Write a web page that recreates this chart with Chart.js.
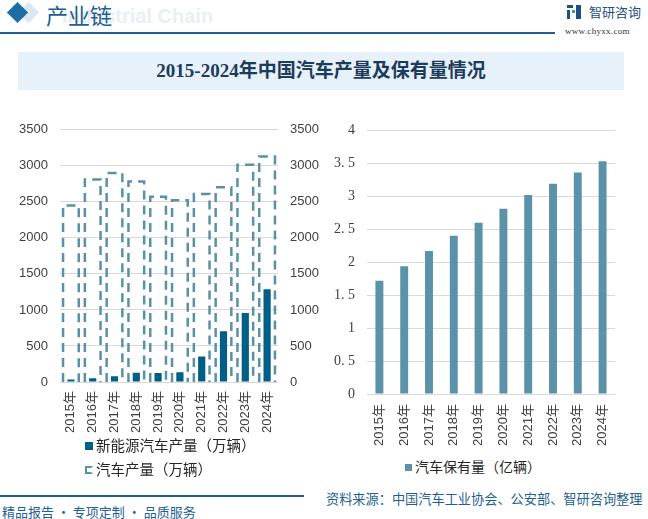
<!DOCTYPE html>
<html>
<head>
<meta charset="utf-8">
<script src="https://cdn.jsdelivr.net/npm/chart.js@4.4.0/dist/chart.umd.min.js"></script>
<style>
    html, body { margin: 0; padding: 0; }
    body {
        width: 648px; height: 519px; position: relative; overflow: hidden;
        background: #fff; font-family: "Noto Sans CJK SC", sans-serif;
    }
    .abs { position: absolute; }
    .diamond {
        left: 10px; top: 5px; width: 15px; height: 15px;
        background: #1c6ea4; transform: rotate(45deg);
    }
    .diamond-bg {
        left: 21px; top: 5px; width: 15px; height: 15px;
        background: #dbe8f2; transform: rotate(45deg);
    }
    .head-title { left: 46px; top: -2px; font-size: 22px; color: #1f5f93; font-family: "Noto Sans CJK SC"; }
    .head-en { left: 62px; top: 5px; font-size: 20px; font-weight: bold; color: #e8eff5; font-family: "Liberation Sans"; }
    .head-line { left: 0; top: 32px; width: 555px; height: 2px; background: #1f5f93; }
    .logo-icon { left: 567px; top: 5px; width: 14px; height: 14px; }
    .logo-text { left: 589px; top: 2px; font-size: 13px; color: #1f4f80; }
    .logo-url { left: 565px; top: 26px; font-size: 9px; color: #333; font-family: "Liberation Serif"; letter-spacing: 0.3px; }
    .title-box {
        left: 18px; top: 52px; width: 606px; height: 38px; background: #e6f1f9;
        text-align: center; line-height: 38px; font-size: 19px; font-weight: bold; color: #1d3b5c;
        font-family: "Liberation Serif", "Noto Sans CJK SC";
    }
    .legend { font-size: 14.5px; color: #262626; line-height: 16px; white-space: nowrap; }
    .legend .box { display: inline-block; width: 8px; height: 8px; margin-right: 3px; vertical-align: 1px; box-sizing: border-box; }
    .foot-line { left: 0; top: 495px; width: 304px; height: 2px; background: #1f5f93; }
    .foot-left { left: 2px; top: 502px; font-size: 13px; color: #1f5f93; }
    .foot-right { left: 326px; top: 489px; font-size: 13.2px; color: #1f5f93; }
</style>
</head>
<body>
<div class="abs diamond-bg"></div>
<div class="abs diamond"></div>
<div class="abs head-en">Industrial Chain</div>
<div class="abs head-title">产业链</div>
<div class="abs head-line"></div>
<svg class="abs logo-icon" viewBox="0 0 14 14">
    <rect x="0" y="0" width="6" height="3" fill="#1f4f80"/>
    <rect x="0" y="5" width="3" height="9" fill="#1f4f80"/>
    <rect x="5" y="5" width="3" height="3" fill="#3c8fd0"/>
    <rect x="9" y="0" width="5" height="14" fill="#1f4f80"/>
</svg>
<div class="abs logo-text">智研咨询</div>
<div class="abs logo-url">www.chyxx.com</div>
<div class="abs title-box">2015-2024年中国汽车产量及保有量情况</div>

<div class="abs" style="left:0;top:110px;width:330px;height:330px;"><canvas id="leftChart"></canvas></div>
<div class="abs" style="left:330px;top:110px;width:318px;height:340px;"><canvas id="rightChart"></canvas></div>

<div class="abs legend" id="leftLegend" style="left:85px;top:437px;"></div>
<div class="abs legend" id="rightLegend" style="left:405px;top:458px;font-size:14px;"></div>

<div class="abs foot-line"></div>
<div class="abs foot-left">精品报告 · 专项定制 · 品质服务</div>
<div class="abs foot-right">资料来源：中国汽车工业协会、公安部、智研咨询整理</div>

<script>
// 年份
const years = ['2015年', '2016年', '2017年', '2018年', '2019年', '2020年', '2021年', '2022年', '2023年', '2024年'];
// 新能源汽车产量（万辆）
const nevOutput = [34.1, 51.7, 79.4, 127, 124.2, 136.6, 354.5, 705.8, 958.7, 1288.8];
// 汽车产量（万辆）
const carOutput = [2450.3, 2811.9, 2901.5, 2780.9, 2572.1, 2522.5, 2608.2, 2702.1, 3016.1, 3128.2];
// 汽车保有量（亿辆）
const carStock = [1.72, 1.94, 2.17, 2.40, 2.60, 2.81, 3.02, 3.19, 3.36, 3.53];

const leftTicks = [0, 500, 1000, 1500, 2000, 2500, 3000, 3500];
const rightTicks = [0, 0.5, 1, 1.5, 2, 2.5, 3, 3.5, 4];

const nevLabel = '新能源汽车产量（万辆）';
const carLabel = '汽车产量（万辆）';
const stockLabel = '汽车保有量（亿辆）';

const COLOR_NEV = '#005f86';
const COLOR_CAR = '#5a91a8';
const COLOR_STOCK = '#5b92aa';
const GRID = '#d9d9d9';
const TICK = '#404040';

// 虚线框柱子（汽车产量）
const dashedBars = {
    id: 'dashedBars',
    afterDatasetsDraw(chart) {
        const meta = chart.getDatasetMeta(1);
        const ctx = chart.ctx;
        ctx.save();
        ctx.strokeStyle = COLOR_CAR;
        ctx.lineWidth = 2.5;
        ctx.setLineDash([9, 6]);
        meta.data.forEach(el => {
            const p = el.getProps(['x', 'y', 'base', 'width'], true);
            const l = p.x - p.width / 2;
            const r = p.x + p.width / 2;
            ctx.beginPath();
            ctx.moveTo(l, p.base);
            ctx.lineTo(l, p.y);
            ctx.lineTo(r, p.y);
            ctx.lineTo(r, p.base);
            ctx.stroke();
        });
        ctx.restore();
    }
};

const xTickFont = { family: '"Liberation Sans", "Noto Sans CJK SC"', size: 13 };
const numFont = { family: 'Liberation Sans', size: 13 };

new Chart(document.getElementById('leftChart'), {
    type: 'bar',
    data: {
        labels: years,
        datasets: [{
            label: nevLabel,
            data: nevOutput,
            yAxisID: 'y',
            backgroundColor: COLOR_NEV,
            grouped: false,
            categoryPercentage: 1,
            barPercentage: 0.33
        }, {
            label: carLabel,
            data: carOutput,
            yAxisID: 'y1',
            backgroundColor: 'rgba(0,0,0,0)',
            borderWidth: 0,
            grouped: false,
            categoryPercentage: 1,
            barPercentage: 0.72
        }]
    },
    options: {
        responsive: true,
        maintainAspectRatio: false,
        animation: false,
        layout: { padding: { top: 16 } },
        plugins: { legend: { display: false }, tooltip: { enabled: false } },
        scales: {
            x: {
                grid: { display: false, drawTicks: false },
                border: { display: false },
                ticks: { color: TICK, font: xTickFont, minRotation: 90, maxRotation: 90, padding: 9 },
                afterFit(scale) { scale.height = 58; }
            },
            y: {
                position: 'left',
                min: 0, max: 3500,
                afterBuildTicks(scale) { scale.ticks = leftTicks.map(v => ({ value: v })); },
                grid: { color: GRID, drawTicks: false },
                border: { display: false },
                ticks: { color: TICK, font: numFont, padding: 12, callback: v => String(v) },
                afterFit(scale) { scale.width = 60; }
            },
            y1: {
                position: 'right',
                min: 0, max: 3500,
                afterBuildTicks(scale) { scale.ticks = leftTicks.map(v => ({ value: v })); },
                grid: { display: false, drawTicks: false },
                border: { display: false },
                ticks: { color: TICK, font: numFont, padding: 12, callback: v => String(v) },
                afterFit(scale) { scale.width = 52; }
            }
        }
    },
    plugins: [dashedBars]
});

new Chart(document.getElementById('rightChart'), {
    type: 'bar',
    data: {
        labels: years,
        datasets: [{
            label: stockLabel,
            data: carStock,
            backgroundColor: COLOR_STOCK,
            categoryPercentage: 1,
            barPercentage: 0.32
        }]
    },
    options: {
        responsive: true,
        maintainAspectRatio: false,
        animation: false,
        layout: { padding: { top: 16, right: 33 } },
        plugins: { legend: { display: false }, tooltip: { enabled: false } },
        scales: {
            x: {
                grid: { display: false, drawTicks: false },
                border: { display: false },
                ticks: { color: TICK, font: xTickFont, minRotation: 90, maxRotation: 90, padding: 10 },
                afterFit(scale) { scale.height = 56; }
            },
            y: {
                min: 0, max: 4,
                afterBuildTicks(scale) { scale.ticks = rightTicks.map(v => ({ value: v })); },
                grid: { color: GRID, drawTicks: false },
                border: { display: false },
                ticks: {
                    color: TICK,
                    font: { family: 'Liberation Serif', size: 14 },
                    padding: 12,
                    callback: v => String(v).replace('.', '. ')
                },
                afterFit(scale) { scale.width = 37; }
            }
        }
    }
});

// 图例
document.getElementById('leftLegend').innerHTML =
    `<div><span class="box" style="background:${COLOR_NEV}"></span>${nevLabel}</div>` +
    `<div style="margin-top:8px"><span class="box" style="border:2px solid ${COLOR_CAR};border-right-color:transparent;"></span>${carLabel}</div>`;
document.getElementById('rightLegend').innerHTML =
    `<span class="box" style="background:${COLOR_STOCK};width:7px;height:7px;"></span>${stockLabel}`;
</script>
</body>
</html>
